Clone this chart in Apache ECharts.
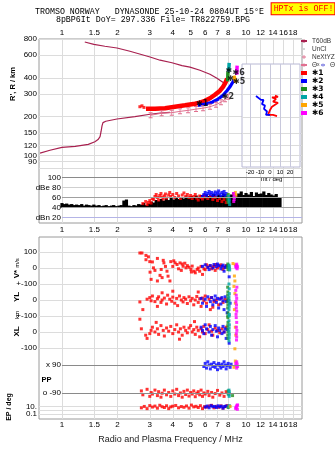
<!DOCTYPE html>
<html>
<head>
<meta charset="utf-8">
<script src="https://cdn.jsdelivr.net/npm/echarts@6/dist/echarts.min.js"></script>
<style>
html,body{margin:0;padding:0;background:#fff;}
#chart{width:335px;height:451px;}
</style>
</head>
<body>
<div id="chart"></div>
<script>
// ---------------- ticks & ranges ----------------
const freqTicks = [1, 1.5, 2, 3, 4, 5, 6, 7, 8, 10, 12, 14, 16, 18];
const freqLabels = ['1', '1.5', '2', '3', '4', '5', '6', '7', '8', '10', '12', '14', '16', '18'];
const freqRange = [0.75, 20.15];
const heightTicks = [800, 600, 400, 300, 200, 150, 120, 100, 90, 80];
const heightLabels = ['800', '600', '400', '300', '200', '150', '120', '100', '90', '80'];
const heightRange = [77.3, 800];
const insetHeightRange = [81.7, 514];
const insetHeightTicks = [400, 300, 200, 150, 120, 100, 90];
const tiltTicks = [-20, -10, 0, 10, 20];
const tiltLabels = ['-20', '-10', '0', '10', '20'];
const tiltRange = [-28, 30];
const ampTicks = [100, 80, 60, 40, 20];
const ampTickLabels = ['100', 'dBe 80', '60', '40', 'dBn 20'];
const ampLineColors = ['#8a8a8a', '#cfcfcf', '#a0a0a0', '#a0a0a0', '#b4b4e6'];
const ampRange = [9.5, 114.5];
const vTicks = [100, 0], vTickLabels = ['100', '0'], vRange = [-100, 194];
const ylTicks = [100, 0], ylTickLabels = ['+-100', '0'], ylRange = [-100, 100];
const xlTicks = [100, 0, -100], xlTickLabels = ['+-100', '0', '-100'], xlRange = [-150, 100];
const ppTicks = [90, -90], ppTickLabels = ['x 90', 'o -90'], ppRange = [-133, 147];
const epTicks = [10, 1, 0.1], epTickLabels = ['10.', '', '0.1'], epRange = [0.0043, 692];

// ---------------- main ionogram (freq MHz, height km) ----------------
const t60Upper = [[1.33,758],[1.49,726],[1.71,703],[1.99,681],[2.34,643],[3.01,580],[3.41,548],[3.96,524],[4.49,497],[4.96,484],[5.62,458],[6.37,427],[6.95,397],[7.45,372],[7.75,358]];
const t60Lower = [[0.76,104.5],[0.86,110],[1.0,115.6],[1.18,118],[1.39,122],[1.51,128],[1.57,133],[1.61,140],[1.63,153],[1.65,170],[1.67,180],[1.73,184.5],[1.99,192],[2.49,200],[3.01,209],[3.41,213],[3.86,216]];
const neXtYZ = [[3.03,205],[3.48,213],[3.95,215],[4.38,220],[4.84,224],[5.35,229],[5.84,233],[6.37,239],[6.87,248],[7.31,259],[7.69,273],[8.0,285]];
const trace1 = [[2.86,231],[3.2,231],[3.63,233],[4.11,239],[4.66,245],[5.28,252],[5.62,257],[5.98,266],[6.37,278],[6.78,296],[7.22,318],[7.5,341],[7.72,366],[7.9,395]];
const trace1Dots = [[2.65,239],[2.72,243],[2.79,236]];
const trace2 = [[5.48,245],[5.98,250],[6.54,259],[7.04,273],[7.5,293],[7.88,318],[8.18,341],[8.5,373],[8.72,394]];
const trace3 = [[7.95,376],[7.98,446]];
const trace4 = [[8.05,446],[8.1,523]];
const trace5 = [[8.6,416],[8.8,367]];
const trace6 = [[8.9,423],[8.95,497]];
const starMarks = [[5.77,252,'✱1'],[7.97,286,'✱2'],[9.17,373,'✱5'],[9.12,438,'✱6'],[8.08,450,'✱'],[8.24,390,'✱']];

// ---------------- tilt inset (deg, height km) ----------------
const tiltO = [[5,292],[8,286],[2,283],[6,276],[7,268],[3,262],[8,257],[2,240],[0,226],[-2,207],[3,207],[7,203]];
const tiltX = [[-14,290],[-9,271],[-6.5,271],[-8,251],[-5,245],[-6,231],[-3,220],[-4,207],[0,207]];

// ---------------- amplitude panel (freq MHz, dB) ----------------
const noiseFloor = 40;
const noiseFreq = [1.00,1.03,1.06,1.10,1.13,1.17,1.20,1.24,1.28,1.32,1.36,1.40,1.45,1.49,1.54,1.59,1.64,1.69,1.74,1.80,1.86,1.91,1.97,2.04,2.10,2.17,2.24,2.31,2.38,2.46,2.53,2.61,2.70,2.78,2.87,2.96,3.06,3.15,3.25,3.36,3.46,3.57,3.69,3.80,3.92,4.05,4.18,4.31,4.45,4.59,4.73,4.88,5.04,5.20,5.36,5.53,5.71,5.89,6.08,6.27,6.47,6.68,6.89,7.11,7.33,7.57,7.81,8.05,8.31,8.57,8.85,9.13,9.42,9.72,10.0,10.3,10.7,11.0,11.4,11.7,12.1,12.5,12.9,13.3,13.7,14.1,14.6,15.0,15.3];
const noiseTop = [49,47,48,46,47,45,46,45,47,44,46,45,44,46,44,45,43,44,45,43,44,45,43,44,45,54,56,44,43,45,44,47,46,49,45,48,52,50,55,53,57,54,58,55,59,56,60,57,61,58,62,59,63,60,64,61,65,62,66,63,64,67,62,66,63,68,64,62,66,70,64,68,72,65,69,66,71,63,70,67,68,72,65,69,66,64,67,61,59];
const amp1 = [[2.75,48],[2.85,52],[2.9,46],[2.95,50],[3.0,54],[3.05,49],[3.1,58],[3.15,56],[3.2,62],[3.25,66],[3.3,60],[3.35,55],[3.4,64],[3.45,68],[3.5,61],[3.55,57],[3.6,63],[3.65,67],[3.7,59],[3.8,65],[3.85,70],[3.9,62],[4.0,66],[4.1,60],[4.2,68],[4.3,63],[4.4,58],[4.5,65],[4.6,69],[4.7,62],[4.8,66],[4.9,60],[5.0,64],[5.1,58],[5.2,62],[5.3,66],[5.4,59],[5.5,55],[5.6,63],[5.7,60],[5.8,57],[5.9,64],[6.0,61],[6.2,58],[6.4,63],[6.6,56],[6.8,60],[7.0,54],[7.2,58],[7.4,52],[7.6,56],[7.8,50]];
const amp2 = [[5.8,62],[5.9,66],[6.0,70],[6.1,64],[6.2,68],[6.3,72],[6.4,66],[6.5,70],[6.6,63],[6.7,67],[6.8,71],[6.9,65],[7.0,69],[7.1,73],[7.2,67],[7.3,62],[7.4,70],[7.5,66],[7.6,72],[7.7,64],[7.8,68]];
const amp3 = [[7.9,60],[7.95,55],[8.0,66],[7.98,50]];
const amp4 = [[8.05,62],[8.1,52],[8.1,57],[8.15,46]];
const amp5 = [[8.7,66],[8.75,70],[8.8,64]];
const amp6 = [[8.55,68],[8.6,62],[8.62,56],[8.58,52],[8.65,60]];

// ---------------- lower panels (freq MHz, value) ----------------
const v1 = [[2.65,94],[2.72,94],[2.86,79],[2.86,52],[2.95,70],[3.0,40],[3.01,-26],[3.05,-71],[3.1,38],[3.14,1],[3.2,-15],[3.3,60],[3.3,-81],[3.41,-46],[3.46,-9],[3.5,-60],[3.55,48],[3.58,32],[3.65,10],[3.72,-20],[3.77,-51],[3.86,-81],[3.9,40],[4.0,10],[4.05,45],[4.12,32],[4.22,22],[4.3,-5],[4.38,32],[4.45,-15],[4.5,25],[4.55,11],[4.65,30],[4.72,1],[4.8,15],[4.9,5],[5.02,-9],[5.05,-25],[5.1,12],[5.22,-20],[5.3,-30],[5.43,-9],[5.5,0],[5.6,-20],[5.7,10],[5.8,-40],[5.91,-5],[6.0,-10],[6.1,20],[6.2,5],[6.37,15],[6.5,-5],[6.62,7],[6.7,12],[6.8,-15],[6.87,22],[7.0,0],[7.22,11],[7.3,20],[7.5,-9],[7.6,5],[7.8,15]];
const v2 = [[5.8,10],[6.0,20],[6.2,5],[6.3,-10],[6.4,15],[6.6,0],[6.7,22],[6.9,8],[7.0,25],[7.1,15],[7.3,-5],[7.4,10],[7.5,18],[7.6,-20],[7.7,3],[7.8,12],[8.1,-55]];
const v3 = [[7.95,5],[8.0,15],[7.98,-10],[7.96,25]];
const v4 = [[8.08,18],[8.1,10],[8.12,0],[8.15,-12]];
const v5 = [[8.65,-50],[8.7,-81],[8.75,20],[8.5,28]];
const v6 = [[8.8,10],[8.85,2],[8.9,15],[8.95,-5],[9.0,8],[8.9,24]];

const yl1 = [[2.65,-12],[2.75,-60],[2.9,5],[3.0,15],[3.05,-5],[3.1,25],[3.2,-10],[3.3,8],[3.3,-40],[3.35,20],[3.45,-15],[3.5,0],[3.5,45],[3.6,12],[3.7,-25],[3.75,30],[3.85,5],[3.95,-8],[4.0,18],[4.0,55],[4.1,-20],[4.2,10],[4.25,-35],[4.35,25],[4.45,0],[4.55,-12],[4.6,15],[4.7,5],[4.8,-22],[4.9,20],[5.0,-5],[5.1,10],[5.2,-30],[5.3,0],[5.4,22],[5.5,-15],[5.5,50],[5.6,8],[5.7,-40],[5.8,12],[5.9,-5],[6.0,25],[6.1,-20],[6.3,5],[6.4,-60],[6.5,15],[6.6,-45],[6.7,-10],[6.9,0],[7.1,-30],[7.3,10],[7.5,-15],[7.7,5],[7.9,-5]];
const yl2 = [[5.7,10],[5.8,-20],[6.0,5],[6.1,-40],[6.2,20],[6.4,-10],[6.5,15],[6.6,-30],[6.7,0],[6.8,25],[6.9,-15],[7.0,10],[7.1,-50],[7.2,5],[7.3,-25],[7.4,15],[7.5,-5],[7.6,-60],[7.7,20],[7.8,-10],[7.9,-80],[8.0,0],[8.2,-20]];
const yl3 = [[7.95,80],[7.97,50],[7.95,30],[7.98,10],[7.96,-10],[7.97,-30],[7.95,-50],[7.98,-80],[7.96,-100]];
const yl4 = [[8.08,100],[8.1,70],[8.12,40],[8.08,20],[8.1,0],[8.12,-20],[8.1,-40],[8.08,-60],[8.12,-90]];
const yl5 = [[8.7,40],[8.75,-20],[8.65,-60],[8.6,85]];
const yl6 = [[8.8,60],[8.85,30],[8.9,10],[8.82,-10],[8.88,-30],[8.85,-50],[8.9,-70],[8.83,-90],[8.92,80]];

const xl1 = [[2.65,80],[2.7,20],[2.85,-20],[2.9,-40],[3.0,-10],[3.05,10],[3.1,30],[3.2,0],[3.25,60],[3.3,20],[3.35,-15],[3.45,40],[3.55,10],[3.6,-25],[3.7,25],[3.8,5],[3.9,35],[4.0,-10],[4.1,15],[4.2,45],[4.3,0],[4.35,-45],[4.4,20],[4.5,-20],[4.6,30],[4.7,10],[4.8,-5],[4.9,25],[5.0,40],[5.1,0],[5.2,15],[5.25,65],[5.3,-15],[5.4,30],[5.5,10],[5.6,-30],[5.7,20],[5.8,0],[5.9,35],[6.0,-10],[6.2,15],[6.3,45],[6.5,5],[6.6,-20],[6.8,25],[7.0,10],[7.2,-5],[7.4,20],[7.6,0],[7.8,30]];
const xl2 = [[5.7,30],[5.8,10],[5.9,-10],[6.0,45],[6.1,20],[6.3,0],[6.4,35],[6.5,-20],[6.6,15],[6.8,40],[6.9,5],[7.0,-30],[7.1,25],[7.2,10],[7.4,-10],[7.5,35],[7.6,0],[7.7,20],[7.8,-40],[7.9,15],[8.1,-70]];
const xl3 = [[7.97,90],[7.98,60],[7.96,40],[7.97,20],[7.98,0],[7.96,-20],[7.97,-40]];
const xl4 = [[8.1,100],[8.08,70],[8.12,45],[8.1,25],[8.08,5],[8.12,-15],[8.1,-35],[8.08,-55]];
const xl5 = [[8.7,-105],[8.75,30],[8.8,-20]];
const xl6 = [[8.85,90],[8.9,60],[8.87,30],[8.92,10],[8.86,-10],[8.9,-30],[8.88,-50]];

const pp1 = [[2.7,-75],[2.75,-100],[2.9,-65],[3.0,-110],[3.05,-85],[3.1,-95],[3.2,-70],[3.3,-105],[3.35,-80],[3.45,-115],[3.5,-90],[3.6,-70],[3.7,-100],[3.8,-85],[3.9,-110],[4.0,-75],[4.1,-95],[4.2,-65],[4.3,-105],[4.4,-88],[4.5,-115],[4.6,-78],[4.7,-98],[4.8,-70],[4.9,-108],[5.0,-85],[5.1,-95],[5.2,-75],[5.3,-112],[5.4,-90],[5.5,-80],[5.6,-100],[5.7,-70],[5.8,-110],[5.9,-88],[6.0,-95],[6.2,-78],[6.3,-105],[6.5,-85],[6.6,-115],[6.8,-92],[7.0,-72],[7.2,-102],[7.4,-88],[7.6,-110],[7.8,-80]];
const pp2 = [[5.9,80],[6.0,100],[6.1,70],[6.2,110],[6.3,90],[6.4,65],[6.5,95],[6.6,80],[6.7,105],[6.8,75],[6.9,90],[7.0,60],[7.1,100],[7.2,85],[7.3,70],[7.4,95],[7.5,80],[7.6,110],[7.7,90],[7.8,65],[7.9,85],[8.0,100],[8.2,75],[8.3,95]];
const pp3 = [[8.0,-75],[8.0,-95],[8.45,-105]];
const pp4 = [[8.08,-70],[8.1,-80],[8.12,-90],[8.08,-100],[8.1,-110]];
const pp5 = [[8.75,115],[8.6,75]];
const pp6 = [[8.8,100],[8.85,85],[8.9,70],[8.95,95],[9.0,80],[8.9,110]];

const ep1 = [[2.7,5],[2.8,12],[2.9,3],[3.0,20],[3.1,8],[3.2,15],[3.3,4],[3.4,25],[3.5,10],[3.6,6],[3.7,18],[3.8,3],[3.9,9],[4.0,14],[4.15,22],[4.3,5],[4.45,11],[4.6,7],[4.75,16],[4.9,4],[5.05,28],[5.2,9],[5.35,13],[5.5,6],[5.65,19],[5.8,3],[5.95,10],[6.1,8],[6.3,15],[6.5,24],[6.7,5],[6.9,12],[7.1,7],[7.3,17],[7.5,4],[7.7,11],[7.9,20]];
const ep2 = [[6.0,8],[6.15,15],[6.3,5],[6.45,20],[6.6,10],[6.75,12],[6.9,6],[7.05,18],[7.2,9],[7.35,14],[7.5,4],[7.65,11],[7.8,16]];
const ep3 = [[8.0,6]];
const ep4 = [[8.08,10],[8.12,20]];
const ep5 = [[8.2,12]];
const ep6 = [[8.8,3],[8.85,8],[8.9,15],[8.95,25],[9.0,30],[8.82,5],[8.98,2]];

// ---------------- text ----------------
const titleLine1 = 'TROMSO NORWAY   DYNASONDE 25-10-24 0804UT 15°E';
const titleLine2 = '8pBP6It DoY= 297.336 File= TR822759.BPG';
const hptxText = 'HPTx is OFF!';
const freqAxisTitle = 'Radio and Plasma Frequency / MHz';

// ---------------- build ----------------
const lg = Math.log10;
const X0 = lg(freqRange[0]), X1 = lg(freqRange[1]);
const fVals = freqTicks.map(lg);
const hVals = heightTicks.map(lg);
const insetVals = insetHeightTicks.map(lg);
const epVals = epTicks.map(lg);
const FONT = "'Liberation Sans', Arial, sans-serif";
const MONO = "'Liberation Mono', 'DejaVu Sans Mono', monospace";
const C = {r:'#ff0000', b:'#0000ff', g:'#1e8c1e', c:'#00a5a5', o:'#ffa500', m:'#ff00ff', t60:'#a8204f', nx:'#e0708f'};

function lookup(vals, labels) {
  return function (v) {
    for (let i = 0; i < vals.length; i++) if (Math.abs(vals[i] - v) < 1e-6) return labels[i];
    return '';
  };
}
const toLog = a => a.map(p => [lg(p[0]), lg(p[1])]);
const toF = a => a.map(p => [lg(p[0]), p[1]]);
const hiddenX = gi => ({type:'value', gridIndex:gi, min:X0, max:X1, show:false});
const splitGrey = {show:true, lineStyle:{color:'#dcdcdc', width:1}};
const lab = (vals, labels, extra) => Object.assign({customValues:vals, formatter:lookup(vals, labels), fontSize:8, color:'#000', fontFamily:FONT, margin:2}, extra || {});
const yAx = (gi, range, vals, labels, extra) => Object.assign({
  type:'value', gridIndex:gi, min:range[0], max:range[1],
  axisLine:{show:false}, axisTick:{show:false, customValues:vals},
  axisLabel:lab(vals, labels), splitLine:splitGrey
}, extra || {});

function sc(name, data, gi, color, size) {
  return {type:'scatter', name:name, xAxisIndex:gi, yAxisIndex:gi, data:data, symbol:'rect',
    symbolSize:size || 3, itemStyle:{color:color}, silent:true, z:3};
}
function ln(name, data, gi, color, width, extra) {
  return Object.assign({type:'line', name:name, xAxisIndex:gi, yAxisIndex:gi, data:data, symbol:'none',
    lineStyle:{color:color, width:width}, itemStyle:{color:color}, silent:true, z:2}, extra || {});
}
function hLines(gi, vals, colors) {
  return {type:'line', xAxisIndex:gi, yAxisIndex:gi, data:[], silent:true, z:1,
    markLine:{silent:true, symbol:['none','none'], animation:false, label:{show:false},
      lineStyle:{type:'solid', width:1},
      data: vals.map((v, i) => [{coord:[lg(1), v], lineStyle:{color:colors[i], type:'solid', width:1}}, {coord:[X1, v]}])}};
}

const series = [];
// main panel (grid 1)
series.push(ln('T60dB', toLog(t60Upper), 1, C.t60, 1.2));
series.push(ln('T60dB', toLog(t60Lower), 1, C.t60, 1.2));
series.push(ln('NeXtYZ', toLog(neXtYZ), 1, C.nx, 1, {symbol:'path://M0,0H5V1H3V5H5V6H0V5H2V1H0Z', symbolSize:[4,6], showSymbol:true, showAllSymbol:true}));
series.push(ln('✱1', toLog(trace1), 1, C.r, 4.5));
series.push(sc('✱1', toLog(trace1Dots), 1, C.r, 3));
series.push(ln('✱2', toLog(trace2), 1, C.b, 3.2));
series.push(ln('✱3', toLog(trace3), 1, C.g, 3.5));
series.push(ln('✱4', toLog(trace4), 1, C.c, 3.5));
series.push(ln('✱5', toLog(trace5), 1, C.o, 3.5));
series.push(ln('✱6', toLog(trace6), 1, C.m, 3.5));
series.push({type:'scatter', name:'marks', xAxisIndex:1, yAxisIndex:1, silent:true, z:10, symbolSize:1,
  itemStyle:{color:'rgba(0,0,0,0)'},
  data: starMarks.map(s => ({value:[lg(s[0]), lg(s[1])], label:{show:true, position:'inside', formatter:s[2], color:'#000', fontSize:8, fontWeight:'bold', fontFamily:"'DejaVu Sans', sans-serif"}}))});
series.push({type:'scatter', name:'UnCl', xAxisIndex:1, yAxisIndex:1, data:[], itemStyle:{color:'#000'}});
series.push(ln('Θx', [], 1, '#e07090', 1));
series.push(ln('Θy', [], 1, '#9a9ae8', 1));
// amplitude (grid 2)
series.push(hLines(2, ampTicks, ampLineColors));
series.push({type:'custom', xAxisIndex:2, yAxisIndex:2, silent:true, z:2,
  data: noiseFreq.map((f, i) => [lg(f), noiseTop[i]]),
  renderItem: function (params, api) {
    const p0 = api.coord([api.value(0), noiseFloor]);
    const p1 = api.coord([api.value(0), api.value(1)]);
    return {type:'line', shape:{x1:p0[0], y1:p0[1], x2:p1[0], y2:p1[1]}, style:{stroke:'#000', lineWidth:3.2}};
  }});
series.push(sc('✱1', toF(amp1), 2, C.r));
series.push(sc('✱2', toF(amp2), 2, C.b));
series.push(sc('✱3', toF(amp3), 2, C.g));
series.push(sc('✱4', toF(amp4), 2, C.c));
series.push(sc('✱5', toF(amp5), 2, C.o));
series.push(sc('✱6', toF(amp6), 2, C.m));
// inset (grid 3)
series.push(ln('✱1', tiltO.map(p => [p[0], lg(p[1])]), 3, C.r, 1.8, {z:5}));
series.push(ln('✱2', tiltX.map(p => [p[0], lg(p[1])]), 3, C.b, 1.8, {z:5}));
// lower panels
const lowerSets = [[5, [v1,v2,v3,v4,v5,v6]], [6, [yl1,yl2,yl3,yl4,yl5,yl6]], [7, [xl1,xl2,xl3,xl4,xl5,xl6]], [8, [pp1,pp2,pp3,pp4,pp5,pp6]]];
const cols = [C.r, C.b, C.g, C.c, C.o, C.m];
lowerSets.forEach(([gi, sets]) => sets.forEach((d, k) => series.push(sc('✱' + (k + 1), toF(d), gi, cols[k]))));
[ep1, ep2, ep3, ep4, ep5, ep6].forEach((d, k) => series.push(sc('✱' + (k + 1), toLog(d), 9, cols[k])));
series.push(hLines(8, ppTicks, ['#8a8a8a', '#8a8a8a']));

const grids = [
  {left:39, top:39, width:263, height:184, show:true, borderColor:'#9a9a9a', borderWidth:1, backgroundColor:'transparent'},
  {left:39, top:39, width:263, height:131},
  {left:39, top:170, width:263, height:53},
  {left:242, top:64, width:58, height:103, show:true, backgroundColor:'#ffffff', borderColor:'#b8b8d4', borderWidth:1, z:3},
  {left:39, top:237, width:263, height:182, show:true, borderColor:'#9a9a9a', borderWidth:1, backgroundColor:'transparent'},
  {left:39, top:237, width:263, height:47},
  {left:39, top:284, width:263, height:32},
  {left:39, top:316, width:263, height:40},
  {left:39, top:356, width:263, height:44},
  {left:39, top:400, width:263, height:19}
];

const freqLab = (m) => lab(fVals, freqLabels, {margin:m});
const xAxes = [
  {type:'value', gridIndex:0, min:X0, max:X1, position:'bottom', axisLine:{show:false},
   axisTick:{show:false, customValues:fVals}, axisLabel:freqLab(3), splitLine:splitGrey},
  {type:'value', gridIndex:1, min:X0, max:X1, position:'top', axisLine:{show:false},
   axisTick:{show:false}, axisLabel:freqLab(2), splitLine:{show:false}},
  hiddenX(2),
  {type:'value', gridIndex:3, min:tiltRange[0], max:tiltRange[1], z:3, axisLine:{show:false},
   axisTick:{show:false, customValues:tiltTicks}, axisLabel:lab(tiltTicks, tiltLabels, {fontSize:6, margin:2}),
   splitLine:{show:true, lineStyle:{color:'#c8c8dc'}},
   name:'Tilt / deg', nameLocation:'middle', nameGap:9, nameTextStyle:{fontSize:6, color:'#000', fontFamily:FONT}},
  {type:'value', gridIndex:4, min:X0, max:X1, position:'bottom', axisLine:{show:false},
   axisTick:{show:false, customValues:fVals}, axisLabel:freqLab(2), splitLine:splitGrey,
   name:freqAxisTitle, nameLocation:'middle', nameGap:16, nameTextStyle:{fontSize:9, color:'#222', fontFamily:FONT}},
  hiddenX(5), hiddenX(6), hiddenX(7), hiddenX(8), hiddenX(9)
];
const yAxes = [
  {type:'value', gridIndex:0, min:0, max:1, show:false},
  yAx(1, [lg(heightRange[0]), lg(heightRange[1])], hVals, heightLabels),
  yAx(2, ampRange, ampTicks, ampTickLabels, {splitLine:{show:false}, axisLabel:lab(ampTicks, ampTickLabels, {margin:-22})}),
  yAx(3, [lg(insetHeightRange[0]), lg(insetHeightRange[1])], insetVals, insetHeightTicks.map(String), {z:3, axisLabel:{show:false}}),
  {type:'value', gridIndex:4, min:0, max:1, show:false},
  yAx(5, vRange, vTicks, vTickLabels),
  yAx(6, ylRange, ylTicks, ylTickLabels),
  yAx(7, xlRange, xlTicks, xlTickLabels),
  yAx(8, ppRange, ppTicks, ppTickLabels, {splitLine:{show:false}, axisLabel:lab(ppTicks, ppTickLabels, {margin:-22})}),
  yAx(9, [lg(epRange[0]), lg(epRange[1])], epVals, epTickLabels)
];

const legendBase = {orient:'vertical', itemWidth:6, itemHeight:4, itemGap:0, padding:0, selectedMode:false,
  textStyle:{fontSize:6.5, lineHeight:8, color:'#333', fontFamily:FONT, rich:{t:{fontSize:6.5, color:'#333'}, s:{fontSize:5, color:'#333'}}},
  formatter: n => n.charAt(0) === 'Θ' ? '{t|Θ}{s|' + n.slice(1) + '}' : n};
const starText = {fontWeight:'bold', color:'#000', fontFamily:"'DejaVu Sans', sans-serif", fontSize:7.5};
const legends = [
  Object.assign({}, legendBase, {left:300, top:37, data:[
    {name:'T60dB'},
    {name:'UnCl', icon:'path://M2,2H3V3H2ZM0,0H0.05V0.05H0ZM4.95,4.95H5V5H4.95Z'},
    {name:'NeXtYZ', icon:'path://M2,0H3V2H5V3H3V5H2V3H0V2H2Z'},
    {name:'Θx'},
    {name:'✱1', icon:'rect', textStyle:starText},
    {name:'✱2', icon:'rect', textStyle:starText},
    {name:'✱3', icon:'rect', textStyle:starText},
    {name:'✱4', icon:'rect', textStyle:starText},
    {name:'✱5', icon:'rect', textStyle:starText},
    {name:'✱6', icon:'rect', textStyle:starText}
  ]}),
  Object.assign({}, legendBase, {left:320, top:61, itemWidth:4, data:[{name:'Θy'}]})
];

const T = (text, x, y, font, extra) => ({type:'text', x:x, y:y, silent:true, z:20,
  style:Object.assign({text:text, font:font, fill:'#000', align:'center', verticalAlign:'middle'}, extra || {})});
const rot = (text, x, y, font) => Object.assign(T(text, x, y, font), {rotation:Math.PI / 2});
const graphics = [
  T(titleLine1, 149.5, 12, '8.3px ' + MONO),
  T(titleLine2, 153, 20, '8.3px ' + MONO),
  T(hptxText, 303, 8.7, '8.3px ' + MONO, {fill:'#ff0000', backgroundColor:'#ffff00', borderColor:'#ff0000', borderWidth:1, padding:[2,1,1,2]}),
  rot("R', R / km", 12.5, 84, 'bold 7.5px ' + FONT),
  rot('m/s', 17, 263, '6px ' + FONT),
  rot('V*', 17, 274, 'bold 8px ' + FONT),
  rot('YL', 17, 297, 'bold 8px ' + FONT),
  rot('km', 17, 315, '6px ' + FONT),
  rot('XL', 17, 331.5, 'bold 8px ' + FONT),
  rot('EP / deg', 9, 407, 'bold 7px ' + FONT),
  T('PP', 46.5, 380, 'bold 7.5px ' + FONT)
];

const chart = echarts.init(document.getElementById('chart'), null, {renderer:'canvas'});
chart.setOption({
  animation:false,
  backgroundColor:'#ffffff',
  textStyle:{fontFamily:FONT},
  grid:grids, xAxis:xAxes, yAxis:yAxes,
  legend:legends,
  graphic:graphics,
  series:series
});
</script>
</body>
</html>
